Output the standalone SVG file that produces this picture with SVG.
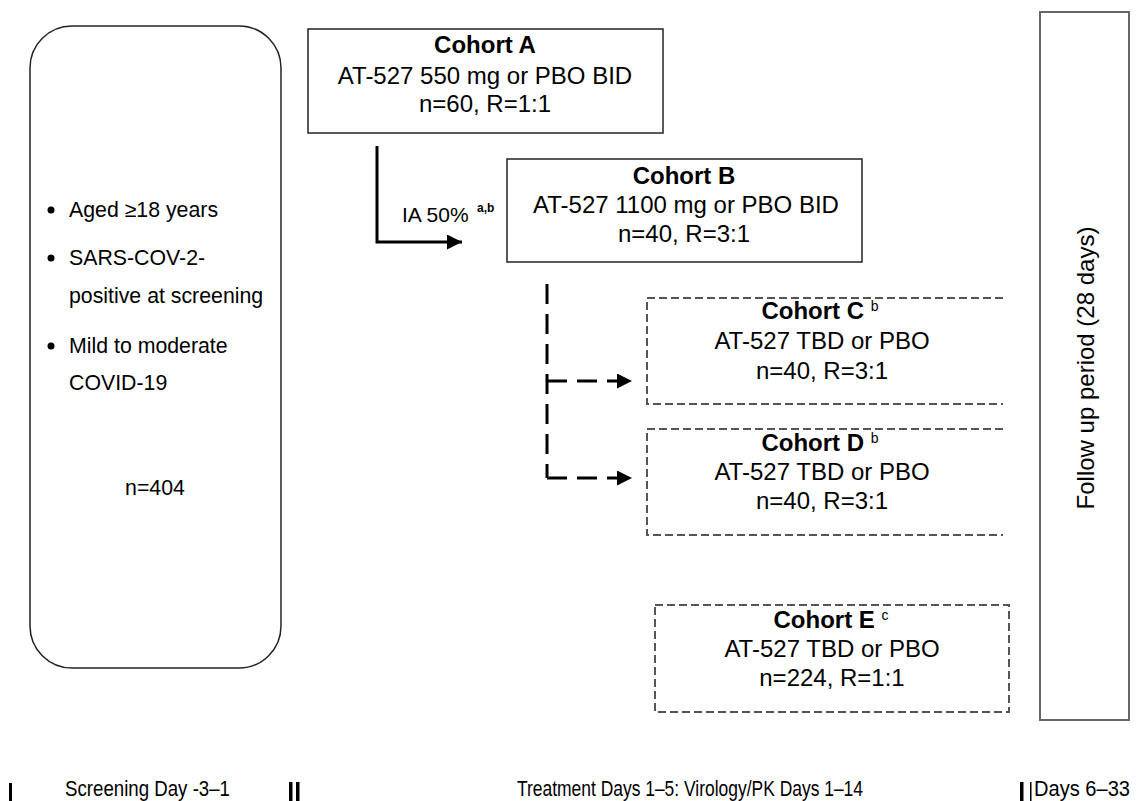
<svg xmlns="http://www.w3.org/2000/svg" width="1139" height="801" viewBox="0 0 1139 801">
<defs>
<style>
text{font-family:"Liberation Sans",Arial,sans-serif;fill:#000}
.c{font-size:24px;text-anchor:middle}
.b{font-weight:bold}
.l{font-size:21.3px}
.sup{font-size:14px}
.box{fill:#fff;stroke:#222;stroke-width:1.5}
.dbox{fill:none;stroke:#555;stroke-width:2;stroke-dasharray:8 4}
.solid{fill:none;stroke:#000;stroke-width:3}
.dash{fill:none;stroke:#000;stroke-width:3;stroke-dasharray:20 10}
.bot{font-size:22px}
</style>
<marker id="ah" viewBox="0 0 10 10" refX="10" refY="5" markerWidth="6.5" markerHeight="5" markerUnits="strokeWidth" orient="auto">
<path d="M0,0 L10,5 L0,10 Z" fill="#000"/>
</marker>
</defs>
<rect width="1139" height="801" fill="#fff"/>

<g id="eligibility">
<rect class="box" x="30" y="26" width="251" height="642" rx="42" ry="42"/>
<circle cx="51" cy="210" r="3.5"/>
<text class="l" x="69" y="217">Aged ≥18 years</text>
<circle cx="51" cy="258" r="3.5"/>
<text class="l" x="69" y="265">SARS-COV-2-</text>
<text class="l" x="69" y="303">positive at screening</text>
<circle cx="51" cy="346" r="3.5"/>
<text class="l" x="69" y="353">Mild to moderate</text>
<text class="l" x="69" y="390">COVID-19</text>
<text class="l" x="155" y="495" text-anchor="middle">n=404</text>
</g>

<g id="cohortA">
<rect class="box" x="308" y="29" width="355" height="104"/>
<text class="c b" x="485" y="53">Cohort A</text>
<text class="c" x="485" y="84">AT-527 550 mg or PBO BID</text>
<text class="c" x="485" y="112">n=60, R=1:1</text>
</g>

<g id="cohortB">
<rect class="box" x="507" y="159" width="355" height="103"/>
<text class="c b" x="684" y="184">Cohort B</text>
<text class="c" x="686" y="213">AT-527 1100 mg or PBO BID</text>
<text class="c" x="684" y="242">n=40, R=3:1</text>
</g>

<g id="cohortC">
<path class="dbox" d="M1003,298 L647,298 L647,404 L1003,404"/>
<text class="c b" x="820" y="319">Cohort C <tspan class="sup" font-weight="normal" dy="-8">b</tspan></text>
<text class="c" x="822" y="349">AT-527 TBD or PBO</text>
<text class="c" x="822" y="379">n=40, R=3:1</text>
</g>

<g id="cohortD">
<path class="dbox" d="M1003,429 L647,429 L647,535 L1003,535"/>
<text class="c b" x="820" y="451">Cohort D <tspan class="sup" font-weight="normal" dy="-8">b</tspan></text>
<text class="c" x="822" y="480">AT-527 TBD or PBO</text>
<text class="c" x="822" y="509">n=40, R=3:1</text>
</g>

<g id="cohortE">
<rect class="dbox" x="655" y="605" width="354" height="107"/>
<text class="c b" x="831" y="628">Cohort E <tspan class="sup" font-weight="normal" dy="-8">c</tspan></text>
<text class="c" x="832" y="657">AT-527 TBD or PBO</text>
<text class="c" x="832" y="686">n=224, R=1:1</text>
</g>

<g id="followup">
<rect x="1040" y="12" width="89" height="708" fill="#fff" stroke="#666" stroke-width="2"/>
<text class="c" transform="translate(1094,368) rotate(-90)">Follow up period (28 days)</text>
</g>

<g id="connectors">
<path class="solid" d="M377,146 L377,242 L462,242" marker-end="url(#ah)"/>
<text x="402" y="222" font-size="21px">IA 50%</text>
<text x="477" y="212" font-size="12px" font-weight="bold">a,b</text>
<path class="dash" d="M547,284 L547,478"/>
<path class="dash" d="M547,381 L632,381" stroke-dasharray="0 12 16 10 20 10" marker-end="url(#ah)"/>
<path class="dash" d="M547,478 L632,478" stroke-dasharray="0 12 16 10 20 10" marker-end="url(#ah)"/>
</g>

<g id="timeline">
<rect x="9" y="783" width="3" height="18"/>
<text class="bot" x="65" y="796" textLength="165" lengthAdjust="spacingAndGlyphs">Screening Day -3–1</text>
<rect x="289" y="782" width="3.5" height="19"/>
<rect x="296" y="782" width="3.5" height="19"/>
<text class="bot" x="517" y="796" textLength="346" lengthAdjust="spacingAndGlyphs">Treatment Days 1–5: Virology/PK Days 1–14</text>
<rect x="1020" y="782" width="3.5" height="19"/>
<rect x="1030" y="782" width="1.5" height="19"/>
<text class="bot" x="1034" y="796" textLength="96" lengthAdjust="spacingAndGlyphs">Days 6–33</text>
</g>
</svg>
